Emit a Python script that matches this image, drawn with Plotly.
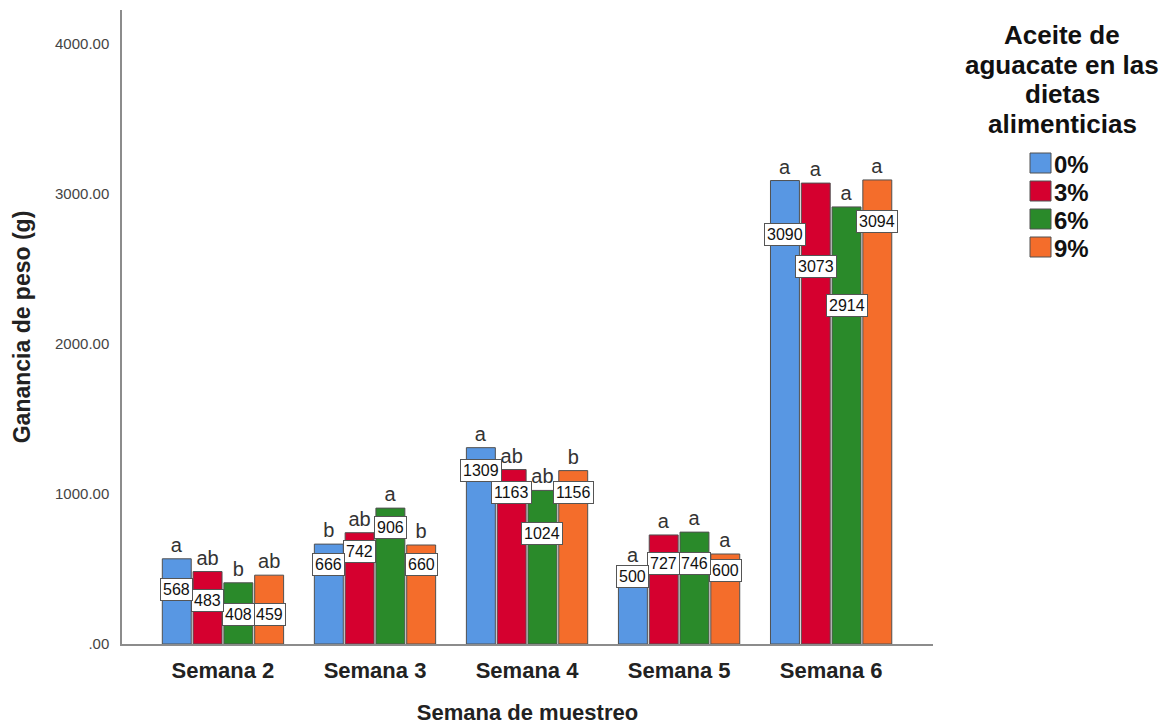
import plotly.graph_objects as go

# ---------------- data ----------------
weeks = ["Semana 2", "Semana 3", "Semana 4", "Semana 5", "Semana 6"]
series_names = ["0%", "3%", "6%", "9%"]
vals_0 = [568, 666, 1309, 500, 3090]
vals_3 = [483, 742, 1163, 727, 3073]
vals_6 = [408, 906, 1024, 746, 2914]
vals_9 = [459, 660, 1156, 600, 3094]
letters_0 = ["a", "b", "a", "a", "a"]
letters_3 = ["ab", "ab", "ab", "a", "a"]
letters_6 = ["b", "a", "ab", "a", "a"]
letters_9 = ["ab", "b", "b", "a", "a"]
y_tick_vals = [0, 1000, 2000, 3000, 4000]
y_tick_text = [".00", "1000.00", "2000.00", "3000.00", "4000.00"]
legend_title_lines = ["Aceite de", "aguacate en las", "dietas", "alimenticias"]

# ---------------- label placement (data-unit heights of the value boxes) ----------------
box_y_0 = [363, 533, 1160, 450, 2733]
box_y_3 = [287, 620, 1010, 537, 2520]
box_y_6 = [197, 777, 737, 537, 2260]
box_y_9 = [197, 527, 1010, 493, 2817]

colors = ["#5897E3", "#D5002F", "#2A8A2A", "#F46D2B"]
FONT = "Liberation Sans, Arial, sans-serif"

all_vals = [vals_0, vals_3, vals_6, vals_9]
all_letters = [letters_0, letters_3, letters_6, letters_9]
all_box = [box_y_0, box_y_3, box_y_6, box_y_9]

W, H = 1171, 725
L, R, T, B = 122, 238, 10, 81
BARGAP = 0.19

fig = go.Figure()
for name, col, vals, lets in zip(series_names, colors, all_vals, all_letters):
    fig.add_trace(go.Bar(
        x=weeks, y=vals, name=name,
        marker=dict(color=col, line=dict(color="#505050", width=1)),
        text=lets, textposition="outside", cliponaxis=False,
        constraintext="none",
        textfont=dict(family=FONT, size=20, color="#333333"),
        showlegend=False, hoverinfo="x+y+name",
    ))

# value boxes (drawn from last series to first so earlier series sit on top)
slot = (1 - BARGAP) / 4
annotations = []
for j in reversed(range(4)):
    for i in range(len(weeks)):
        annotations.append(dict(
            x=i + (j - 1.5) * slot, y=all_box[j][i], xref="x", yref="y",
            text=str(all_vals[j][i]), showarrow=False,
            font=dict(family=FONT, size=16, color="#111111"),
            bgcolor="white", bordercolor="#555555", borderwidth=1, borderpad=2,
        ))

pw = W - L - R
ph = H - T - B


def px_x(px):
    return (px - L) / pw


def px_y(py):
    return (H - B - py) / ph


# legend (manual)
title_centers = [35, 64.5, 94, 123.5]
for line, cy in zip(legend_title_lines, title_centers):
    annotations.append(dict(
        x=px_x(1062), y=px_y(cy), xref="paper", yref="paper",
        text="<b>%s</b>" % line, showarrow=False, xanchor="center", yanchor="middle",
        font=dict(family=FONT, size=26, color="#111111"),
    ))
shapes = []
for k, (name, col) in enumerate(zip(series_names, colors)):
    top = 153 + 28 * k
    shapes.append(dict(
        type="rect", xref="paper", yref="paper",
        x0=px_x(1030), x1=px_x(1051), y0=px_y(top + 20), y1=px_y(top),
        fillcolor=col, line=dict(color="#505050", width=1),
    ))
    annotations.append(dict(
        x=px_x(1052), y=px_y(top + 11), xref="paper", yref="paper",
        text="<b>%s</b>" % name, showarrow=False, xanchor="left", yanchor="middle",
        font=dict(family=FONT, size=24, color="#111111"),
    ))

fig.update_layout(
    width=W, height=H,
    margin=dict(l=L, r=R, t=T, b=B, autoexpand=False),
    paper_bgcolor="white", plot_bgcolor="white",
    barmode="group", bargap=BARGAP, bargroupgap=0.06,
    font=dict(family=FONT, color="#222222"),
    annotations=annotations, shapes=shapes,
    xaxis=dict(
        range=[-0.664, 4.67], showline=True, linecolor="#8c8c8c", linewidth=1.5,
        showgrid=False, zeroline=False,
        ticks="outside", ticklen=6, tickcolor="rgba(0,0,0,0)",
        tickfont=dict(family=FONT, size=22, color="#222222", weight="bold"),
        title=dict(text="<b>Semana de muestreo</b>", standoff=24,
                   font=dict(family=FONT, size=22, color="#222222")),
        automargin=False,
    ),
    yaxis=dict(
        range=[0, 4227], showline=True, linecolor="#8c8c8c", linewidth=1.5,
        showgrid=False, zeroline=False,
        tickvals=y_tick_vals, ticktext=y_tick_text,
        ticks="outside", ticklen=8, tickcolor="rgba(0,0,0,0)",
        tickfont=dict(family=FONT, size=15, color="#444444"),
        title=dict(text="<b>Ganancia de peso (g)</b>", standoff=18,
                   font=dict(family=FONT, size=23, color="#222222")),
        automargin=False,
    ),
)

fig.write_html("out.html")
